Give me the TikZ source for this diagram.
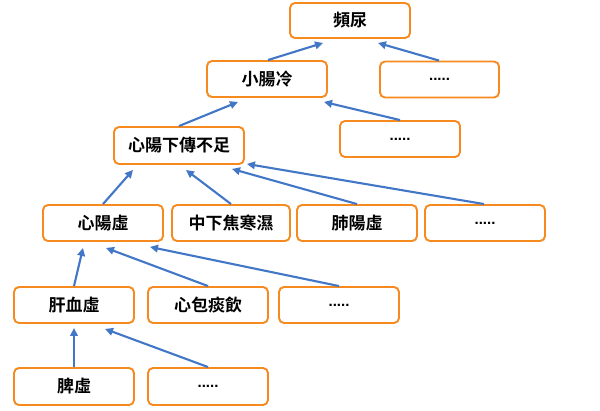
\documentclass[tikz,border=0pt]{standalone}
\usepackage{fontspec}
\setmainfont{Noto Sans CJK TC}[BoldFont={* Bold}]
\newfontfamily\dotfont{Liberation Sans}
\usetikzlibrary{arrows.meta}
\definecolor{boxorange}{RGB}{247,138,30}
\definecolor{arrblue}{RGB}{66,118,198}
\tikzset{
  box/.style={draw=boxorange, line width=1.9pt, rounded corners=5pt, fill=white,
    minimum width=120pt, minimum height=36pt, inner sep=0pt,
    font=\fontsize{17pt}{19pt}\selectfont\bfseries, text=black},
  arr/.style={draw=arrblue, line width=2.1pt, -{Triangle[length=8pt,width=7.5pt]}}
}
\newcommand{\dotsfive}{{\dotfont\fontsize{15pt}{18pt}\selectfont\bfseries .....}}
\begin{document}
\begin{tikzpicture}[x=1pt,y=-1pt]
\useasboundingbox (0,0) rectangle (600,410);
% nodes
\node[box, minimum height=35pt] (pn) at (350,20.5) {頻尿};
\node[box] (xcl) at (267,79) {小腸冷};
\node[box, minimum width=119pt] (d1) at (439.5,79.5) {\dotsfive};
\node[box] (d2) at (400,139) {\dotsfive};
\node[box, minimum width=130pt, minimum height=37pt] (xy) at (179,145.5) {心陽下傳不足};
\node[box] (xyx) at (103,223) {心陽虛};
\node[box, minimum width=118pt] (zx) at (231,223) {中下焦寒濕};
\node[box] (fy) at (357,223) {肺陽虛};
\node[box] (d3) at (485,223) {\dotsfive};
\node[box] (gx) at (74,305) {肝血虛};
\node[box] (xb) at (208,305) {心包痰飲};
\node[box] (d4) at (339,305) {\dotsfive};
\node[box, minimum height=37pt] (px) at (74,386.5) {脾虛};
\node[box, minimum height=37pt] (d5) at (208,386.5) {\dotsfive};
% arrows
\draw[arr] ([xshift=1pt]xcl.north) -- ([xshift=-27pt,yshift=-4pt]pn.south);
\draw[arr] ([xshift=-0.5pt]d1.north) -- ([xshift=28pt,yshift=-4pt]pn.south);
\draw[arr] (xy.north) -- ([xshift=-29pt,yshift=-4pt]xcl.south);
\draw[arr] (d2.north) -- ([xshift=57pt,yshift=-4pt]xcl.south);
\draw[arr] (xyx.north) -- ([xshift=-46pt,yshift=-5pt]xy.south);
\draw[arr] (zx.north) -- ([xshift=7pt,yshift=-5pt]xy.south);
\draw[arr] (fy.north) -- ([xshift=53pt,yshift=-4pt]xy.south);
\draw[arr] ([xshift=-1pt]d3.north) -- ([xshift=2pt,yshift=1pt]xy.south east);
\draw[arr] (gx.north) -- ([xshift=-20pt,yshift=-6pt]xyx.south);
\draw[arr] (xb.north) -- ([xshift=3pt,yshift=-6pt]xyx.south);
\draw[arr] (d4.north) -- ([xshift=47pt,yshift=-5pt]xyx.south);
\draw[arr] (px.north) -- ([yshift=-4pt]gx.south);
\draw[arr] (d5.north) -- ([xshift=31pt,yshift=-5pt]gx.south);
\end{tikzpicture}
\end{document}
